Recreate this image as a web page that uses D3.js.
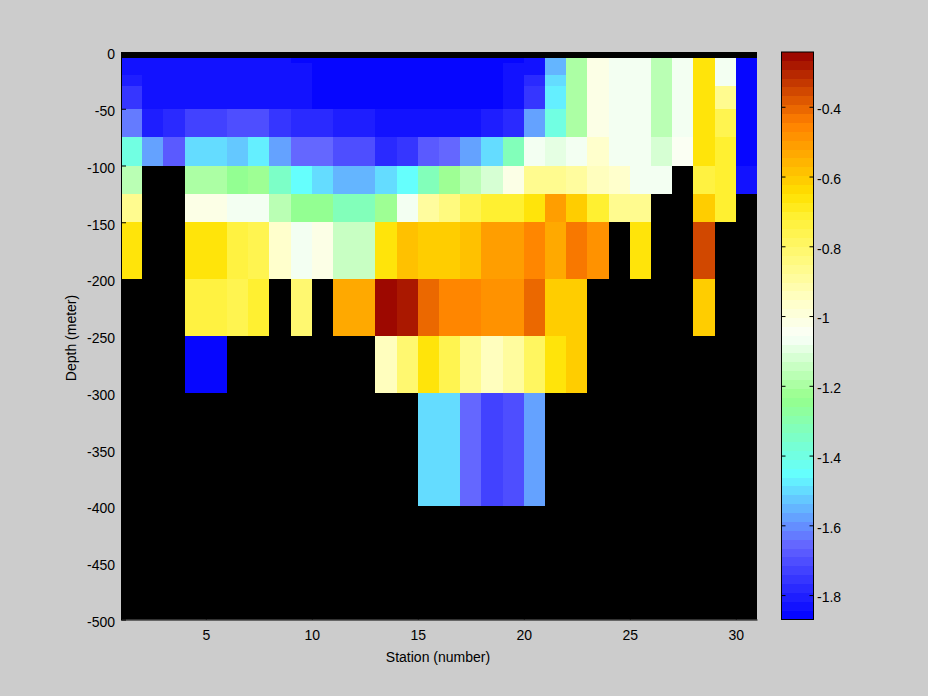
<!DOCTYPE html>
<html>
<head>
<meta charset="utf-8">
<script src="https://cdn.jsdelivr.net/npm/d3@7"></script>
<style>
  body { margin: 0; background: #cccccc; }
  svg { display: block; }
  text { font-family: "Liberation Sans", Arial, Helvetica, sans-serif; }
</style>
</head>
<body>
<svg id="chart" width="928" height="696"></svg>
<script>
const N = null;

// Cell edges: stations (x) and depths in metres (y)
const stationEdges = [1,2,3,4,5,6,7,8,9,10,11,12,13,14,15,16,17,18,19,20,21,22,23,24,25,26,27,28,29,30,31];
const depthEdges = [0,5,10,20,30,50,75,100,125,150,200,250,300,400,500];

// Values per depth layer (rows) and station (columns); null = no data
const values = [
  [N,N,N,N,N,N,N,N,N,N,N,N,N,N,N,N,N,N,N,N,N,N,N,N,N,N,N,N,N,N],
  [-1.84,-1.84,-1.84,-1.84,-1.84,-1.84,-1.84,-1.84,-1.86,-1.86,-1.86,-1.86,-1.86,-1.86,-1.86,-1.86,-1.86,-1.86,-1.86,-1.83,-1.56,-1.20,-1.01,-1.07,-1.08,-1.16,-1.06,-0.67,-1.08,-1.86],
  [-1.84,-1.84,-1.84,-1.84,-1.84,-1.84,-1.84,-1.84,-1.84,-1.86,-1.86,-1.86,-1.86,-1.86,-1.86,-1.86,-1.86,-1.86,-1.84,-1.83,-1.56,-1.20,-1.01,-1.06,-1.08,-1.16,-1.06,-0.67,-1.08,-1.86],
  [-1.80,-1.84,-1.84,-1.84,-1.84,-1.84,-1.84,-1.84,-1.84,-1.86,-1.86,-1.86,-1.86,-1.86,-1.86,-1.86,-1.86,-1.86,-1.84,-1.79,-1.50,-1.20,-1.01,-1.06,-1.06,-1.16,-1.06,-0.67,-1.06,-1.86],
  [-1.76,-1.84,-1.84,-1.84,-1.84,-1.84,-1.84,-1.84,-1.84,-1.86,-1.86,-1.86,-1.86,-1.86,-1.86,-1.86,-1.86,-1.86,-1.84,-1.76,-1.47,-1.20,-1.01,-1.06,-1.06,-1.16,-1.06,-0.67,-0.87,-1.86],
  [-1.63,-1.81,-1.79,-1.74,-1.74,-1.71,-1.71,-1.76,-1.78,-1.78,-1.81,-1.81,-1.84,-1.84,-1.84,-1.84,-1.84,-1.81,-1.79,-1.58,-1.40,-1.20,-1.01,-1.06,-1.06,-1.16,-1.08,-0.67,-0.77,-1.86],
  [-1.40,-1.59,-1.68,-1.50,-1.50,-1.52,-1.47,-1.58,-1.65,-1.65,-1.70,-1.70,-1.79,-1.76,-1.68,-1.65,-1.59,-1.50,-1.33,-1.07,-1.10,-1.07,-0.97,-1.06,-1.08,-1.12,-1.05,-0.67,-0.72,-1.86],
  [-1.18,N,N,-1.20,-1.20,-1.25,-1.23,-1.35,-1.45,-1.49,-1.54,-1.54,-1.49,-1.45,-1.33,-1.23,-1.18,-1.11,-1.03,-0.87,-0.86,-0.89,-0.95,-0.97,-1.08,-1.06,N,-0.73,-0.71,-1.84],
  [-0.87,N,N,-1.03,-1.03,-1.08,-1.08,-1.18,-1.25,-1.25,-1.33,-1.33,-1.21,-1.06,-0.89,-0.84,-0.77,-0.71,-0.71,-0.67,-0.52,-0.62,-0.71,-0.87,-0.87,N,N,-0.62,-0.71,N],
  [-0.67,N,N,-0.67,-0.67,-0.74,-0.76,-0.97,-1.06,-1.01,-1.15,-1.15,-0.67,-0.58,-0.60,-0.60,-0.58,-0.52,-0.52,-0.47,-0.54,-0.44,-0.49,N,-0.67,N,N,-0.37,N,N],
  [N,N,N,-0.73,-0.73,-0.76,-0.71,N,-0.82,N,-0.54,-0.54,-0.24,-0.28,-0.40,-0.47,-0.47,-0.49,-0.49,-0.40,-0.62,-0.60,N,N,N,N,N,-0.62,N,N],
  [N,N,N,-1.86,-1.86,N,N,N,N,N,N,N,-0.95,-0.82,-0.67,-0.76,-0.86,-0.94,-0.89,-0.79,-0.67,-0.62,N,N,N,N,N,N,N,N],
  [N,N,N,N,N,N,N,N,N,N,N,N,N,N,-1.50,-1.50,-1.65,-1.73,-1.70,-1.58,N,N,N,N,N,N,N,N,N,N],
  [N,N,N,N,N,N,N,N,N,N,N,N,N,N,N,N,N,N,N,N,N,N,N,N,N,N,N,N,N,N]
];

const xTickValues = [5,10,15,20,25,30];
const yTickValues = [0,-50,-100,-150,-200,-250,-300,-350,-400,-450,-500];
const cbTickValues = [-1.8,-1.6,-1.4,-1.2,-1,-0.8,-0.6,-0.4];
const colorLimits = [-1.870, -0.243];

// Colormap anchors (position 0..1, colour)
const cmapStops = [0, 0.13, 0.255, 0.39, 0.50, 0.56, 0.63, 0.71, 0.75, 0.78, 0.875, 1.0];
const cmapColors = ["#0000ff","#6464ff","#64ffff","#96ff8c","#fafffa","#ffffc8","#fffa82","#fff032","#ffe100","#ffc800","#ff8000","#960000"];
const nColors = 64;

const svg = d3.select("#chart");
svg.append("rect").attr("width", 928).attr("height", 696).attr("fill", "#cccccc");

const x = d3.scaleLinear().domain([1, 31]).range([121, 757]);
const y = d3.scaleLinear().domain([-500, 0]).range([619.5, 52]);

const anchor = d3.scaleLinear().domain(cmapStops).range(cmapColors).interpolate(d3.interpolateRgb);
const cmap = d3.range(nColors).map(k => d3.rgb(anchor((k + 0.5) / nColors)).formatHex());
const color = d3.scaleQuantize().domain(colorLimits).range(cmap);

// Axes background (no-data colour)
svg.append("rect")
  .attr("x", x(1)).attr("y", y(0))
  .attr("width", x(31) - x(1)).attr("height", y(-500) - y(0))
  .attr("fill", "#000000");

const cells = [];
values.forEach((row, i) => row.forEach((v, j) => { if (v !== null) cells.push({ i, j, v }); }));

svg.append("g").selectAll("rect").data(cells).join("rect")
  .attr("x", d => x(stationEdges[d.j]))
  .attr("width", d => x(stationEdges[d.j + 1]) - x(stationEdges[d.j]))
  .attr("y", d => y(-depthEdges[d.i]))
  .attr("height", d => y(-depthEdges[d.i + 1]) - y(-depthEdges[d.i]))
  .attr("fill", d => color(d.v))
  .attr("shape-rendering", "crispEdges");

const fmt = d => String(d);

function styleAxis(g) {
  g.selectAll("path, line").attr("stroke", "#000");
  g.selectAll("text").attr("fill", "#000")
    .style("font-family", '"Liberation Sans", Arial, Helvetica, sans-serif')
    .style("font-size", "14px");
}

const gx = svg.append("g").attr("transform", `translate(0,${y(-500)})`)
  .call(d3.axisBottom(x).tickValues(xTickValues).tickFormat(fmt).tickSize(-5).tickSizeOuter(0).tickPadding(11));
styleAxis(gx);

const gy = svg.append("g").attr("transform", `translate(${x(1)},0)`)
  .call(d3.axisLeft(y).tickValues(yTickValues).tickFormat(fmt).tickSize(-5).tickSizeOuter(0).tickPadding(6));
styleAxis(gy);
gy.selectAll("text").attr("dy", "0.49em");

svg.append("text")
  .attr("x", 438).attr("y", 661.5)
  .attr("text-anchor", "middle")
  .style("font-size", "14px")
  .text("Station (number)");

svg.append("text")
  .attr("transform", "translate(76,338) rotate(-90)")
  .attr("text-anchor", "middle")
  .style("font-size", "14px")
  .text("Depth (meter)");

// Colorbar
const cbX0 = 781.5, cbX1 = 813.5;
const cb = d3.scaleLinear().domain(colorLimits).range([619.5, 52]);

svg.append("g").selectAll("rect").data(cmap).join("rect")
  .attr("x", cbX0).attr("width", cbX1 - cbX0)
  .attr("y", c => cb(color.invertExtent(c)[1]))
  .attr("height", c => cb(color.invertExtent(c)[0]) - cb(color.invertExtent(c)[1]))
  .attr("fill", c => c)
  .attr("shape-rendering", "crispEdges");

svg.append("rect")
  .attr("x", cbX0).attr("y", cb(colorLimits[1]))
  .attr("width", cbX1 - cbX0).attr("height", cb(colorLimits[0]) - cb(colorLimits[1]))
  .attr("fill", "none").attr("stroke", "#000").attr("stroke-width", 1);

const gcbR = svg.append("g").attr("transform", `translate(${cbX1},0)`)
  .call(d3.axisRight(cb).tickValues(cbTickValues).tickFormat(fmt).tickSize(-4).tickSizeOuter(0).tickPadding(3.5));
styleAxis(gcbR);
gcbR.select(".domain").remove();
gcbR.selectAll("text").attr("dy", "0.48em");

const gcbL = svg.append("g").attr("transform", `translate(${cbX0},0)`)
  .call(d3.axisLeft(cb).tickValues(cbTickValues).tickFormat("").tickSize(-4).tickSizeOuter(0));
styleAxis(gcbL);
gcbL.select(".domain").remove();
</script>
</body>
</html>
